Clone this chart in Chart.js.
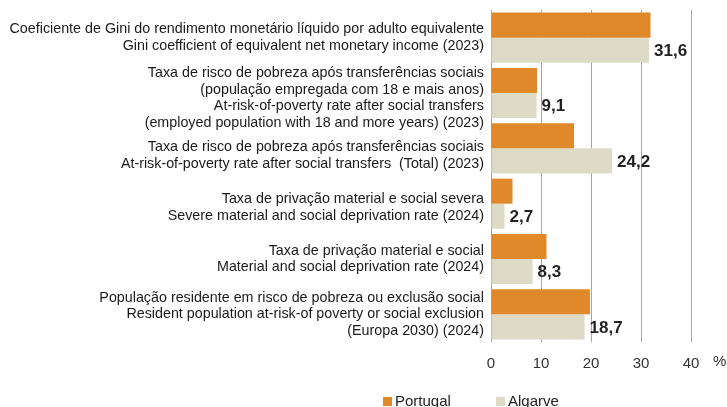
<!DOCTYPE html>
<html lang="pt">
<head>
    <meta charset="UTF-8">
    <title>Indicadores de pobreza - Portugal e Algarve</title>
    <script src="https://cdn.jsdelivr.net/npm/chart.js"></script>
    <style>
        html, body { margin: 0; padding: 0; background: #fff; }
        .chart-box { position: relative; width: 727px; height: 407px; }
    </style>
</head>
<body>
<div class="chart-box">
    <canvas id="povertyChart" width="727" height="407"></canvas>
</div>
<script>
    // Data
    const categories = [
        ['Coeficiente de Gini do rendimento monetário líquido por adulto equivalente',
         'Gini coefficient of equivalent net monetary income (2023)'],
        ['Taxa de risco de pobreza após transferências sociais',
         '(população empregada com 18 e mais anos)',
         'At-risk-of-poverty rate after social transfers',
         '(employed population with 18 and more years) (2023)'],
        ['Taxa de risco de pobreza após transferências sociais',
         'At-risk-of-poverty rate after social transfers  (Total) (2023)'],
        ['Taxa de privação material e social severa',
         'Severe material and social deprivation rate (2024)'],
        ['Taxa de privação material e social',
         'Material and social deprivation rate (2024)'],
        ['População residente em risco de pobreza ou exclusão social',
         'Resident population at-risk-of poverty or social exclusion',
         '(Europa 2030) (2024)']
    ];
    const seriesNames = ['Portugal', 'Algarve'];
    const portugal = [31.9, 9.2, 16.6, 4.3, 11.1, 19.8];
    const algarve = [31.6, 9.1, 24.2, 2.7, 8.3, 18.7];
    const xTicks = [0, 10, 20, 30, 40];
    const unitLabel = '%';

    const FONT = 'Arial, "Liberation Sans", sans-serif';
    const colors = ['#e0892a', '#dddac5'];
    // small vertical nudges of the category labels, as in the original layout
    const labelNudge = [0, 5, 7, 4, 0, 0];

    // value labels for Algarve bars, with comma decimals
    const valueLabels = {
        id: 'valueLabels',
        beforeDraw(chart) {
            const items = chart.scales.y.getLabelItems();
            if (items._nudged) return;
            items.forEach((item, i) => {
                item.options.translation[1] += labelNudge[i] || 0;
            });
            items._nudged = true;
        },
        afterDatasetsDraw(chart) {
            const ctx = chart.ctx;
            const meta = chart.getDatasetMeta(1);
            ctx.save();
            ctx.font = 'bold 17px ' + FONT;
            ctx.fillStyle = '#231f20';
            ctx.textAlign = 'left';
            ctx.textBaseline = 'middle';
            meta.data.forEach((bar, i) => {
                const txt = algarve[i].toFixed(1).replace('.', ',');
                ctx.fillText(txt, bar.x + 5, bar.y + 1);
            });
            ctx.restore();
        }
    };

    // "%" after the x axis and the legend under the chart
    const extras = {
        id: 'extras',
        afterDraw(chart) {
            const ctx = chart.ctx;
            const xs = chart.scales.x;
            ctx.save();
            ctx.font = '15px ' + FONT;
            ctx.fillStyle = '#333';
            ctx.textBaseline = 'middle';
            ctx.textAlign = 'left';
            ctx.fillText(unitLabel, xs.right + 22, 362);

            // legend
            const legendX = [383, 496];
            seriesNames.forEach((name, i) => {
                ctx.fillStyle = colors[i];
                ctx.fillRect(legendX[i], 397, 9, 9);
                ctx.fillStyle = '#222';
                ctx.textBaseline = 'alphabetic';
                ctx.fillText(name, legendX[i] + 12, 406);
            });
            ctx.restore();
        }
    };

    const ctxPoverty = document.getElementById('povertyChart').getContext('2d');
    const povertyChart = new Chart(ctxPoverty, {
        type: 'bar',
        data: {
            labels: categories,
            datasets: [{
                label: seriesNames[0],
                data: portugal,
                backgroundColor: colors[0],
                categoryPercentage: 0.906,
                barPercentage: 1
            },
            {
                label: seriesNames[1],
                data: algarve,
                backgroundColor: colors[1],
                categoryPercentage: 0.906,
                barPercentage: 1
            }]
        },
        options: {
            indexAxis: 'y',
            responsive: false,
            animation: false,
            layout: {
                padding: { top: 10, right: 36, bottom: 35, left: 0 }
            },
            plugins: {
                legend: { display: false },
                tooltip: { enabled: false }
            },
            scales: {
                x: {
                    min: xTicks[0],
                    max: xTicks[xTicks.length - 1],
                    afterBuildTicks(scale) {
                        scale.ticks = xTicks.map(v => ({ value: v }));
                    },
                    afterFit(scale) { scale.height = 30; },
                    grid: { color: '#a6a6a6', lineWidth: 1, drawTicks: false },
                    border: { display: false },
                    ticks: {
                        padding: 13,
                        color: '#333',
                        font: { family: FONT, size: 15 }
                    }
                },
                y: {
                    afterFit(scale) {
                        scale.width = 491;
                        scale.paddingTop = 0;
                        scale.paddingBottom = 0;
                    },
                    grid: { display: false, drawTicks: false },
                    border: { display: false },
                    ticks: {
                        autoSkip: false,
                        padding: 7,
                        color: '#1a1a1a',
                        font: { family: FONT, size: 14.3, lineHeight: 1.16 }
                    }
                }
            }
        },
        plugins: [valueLabels, extras]
    });
</script>
</body>
</html>
